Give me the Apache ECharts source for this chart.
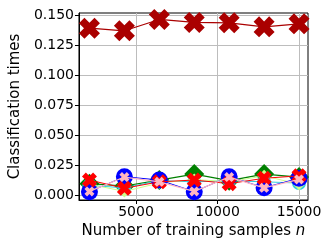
<!DOCTYPE html>
<html><head><meta charset="utf-8">
<script src="https://cdn.jsdelivr.net/npm/echarts@6/dist/echarts.min.js"></script>
<style>html,body{margin:0;padding:0;background:#fff}#c{width:332px;height:249px}</style>
</head><body><div id="c"></div>
<script>
var samples = [2143, 4286, 6429, 8571, 10714, 12857, 15000];
var xTicks = [5000, 10000, 15000];
var yTicks = [0, 0.025, 0.05, 0.075, 0.1, 0.125, 0.15];
var darkRedVals = [0.1396, 0.1374, 0.1469, 0.1444, 0.1441, 0.1407, 0.1432];
var greenVals = [0.0095, 0.0075, 0.0125, 0.0175, 0.0120, 0.0175, 0.0150];
var cyanVals = [0.0080, 0.0060, 0.0120, 0.0110, 0.0120, 0.0110, 0.0100];
var yellowVals = [0.0090, 0.0030, 0.0100, 0.0130, 0.0110, 0.0160, 0.0090];
var blueVals = [0.0028, 0.0153, 0.0125, 0.0028, 0.0153, 0.0061, 0.0140];
var redVals = [0.0125, 0.0056, 0.0110, 0.0125, 0.0095, 0.0140, 0.0160];
var pinkVals = [0.0030, 0.0150, 0.0110, 0.0030, 0.0150, 0.0060, 0.0130];

var X = 'path://M0,2.6L2.6,0L5,2.4L7.4,0L10,2.6L7.6,5L10,7.4L7.4,10L5,7.6L2.6,10L0,7.4L2.4,5Z';
function pts(v){ return samples.map(function(s,i){return [s, v[i]];}); }
function ser(name, vals, color, symbol, size, lw, z){
  return {name:name, type:'line', data:pts(vals), symbol:symbol, symbolSize:size,
    lineStyle:{color:color, width:lw}, itemStyle:{color:color}, z:z, animation:false};
}
var chart = echarts.init(document.getElementById('c'), null, {renderer:'canvas'});
var font = 'DejaVu Sans';
chart.setOption({
  animation:false,
  grid:{left:62, right:24, top:13, bottom:49, show:true, borderColor:'#000', borderWidth:1, backgroundColor:'transparent'},
  xAxis:{type:'value', min:1500, max:15550,
    name:'{a|Number of training samples }{b|n}', nameLocation:'middle', nameGap:22,
    nameTextStyle:{fontFamily:font, fontSize:15, color:'#000',
      rich:{a:{fontFamily:font, fontSize:15, color:'#000'}, b:{fontFamily:font, fontSize:15, color:'#000', fontStyle:'italic'}}},
    axisLine:{show:true, onZero:false, lineStyle:{color:'#000', width:1}},
    axisTick:{show:true, customValues:xTicks, length:4, lineStyle:{color:'#000'}},
    axisLabel:{customValues:xTicks, fontFamily:font, fontSize:14, color:'#000', margin:5,
      formatter:function(v){return String(v);}},
    splitLine:{show:true, lineStyle:{color:'#bdbdbd', width:1}}
  },
  yAxis:{type:'value', min:-0.0042, max:0.1523,
    name:'Classification times', nameLocation:'middle', nameGap:54,
    nameTextStyle:{fontFamily:font, fontSize:15, color:'#000'},
    axisLine:{show:true, onZero:false, lineStyle:{color:'#000', width:1}},
    axisTick:{show:true, customValues:yTicks, length:4, lineStyle:{color:'#000'}},
    axisLabel:{customValues:yTicks, fontFamily:font, fontSize:14, color:'#000', margin:5,
      formatter:function(v){return v.toFixed(3);}},
    splitLine:{show:true, lineStyle:{color:'#bdbdbd', width:1}}
  },
  series:[
    ser('green', greenVals, '#008000', 'diamond', 20, 1.2, 2),
    ser('cyan', cyanVals, '#33ccdd', 'circle', 14, 1, 3),
    ser('yellow', yellowVals, '#ccff88', 'diamond', 12, 1, 4),
    ser('blue', blueVals, '#0000ff', 'circle', 17, 1, 5),
    ser('red', redVals, '#ff0000', X, 15, 1, 6),
    ser('pink', pinkVals, '#ffb6c1', X, 10, 1.2, 7),
    ser('darkred', darkRedVals, '#aa0000', X, 21, 1.2, 8)
  ]
});
</script></body></html>
